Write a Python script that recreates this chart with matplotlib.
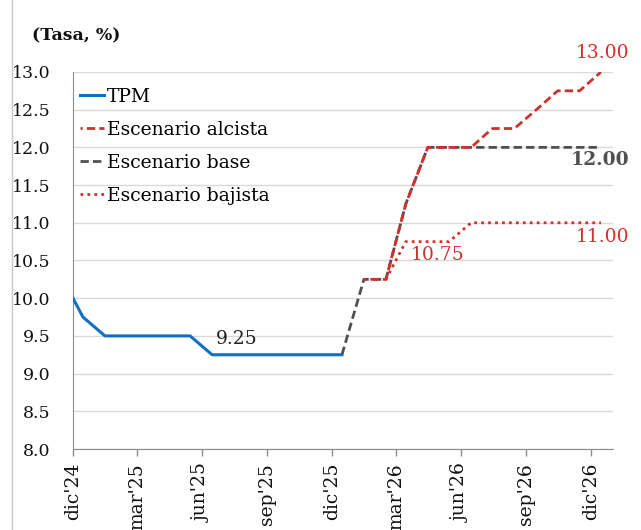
import pandas as pd
import matplotlib.pyplot as plt
from matplotlib.lines import Line2D
from matplotlib.transforms import blended_transform_factory

plt.rcParams['font.family'] = ['DejaVu Serif']

# Datos (tasa, %)
fechas_tpm = ['2024-12-01', '2024-12-15', '2025-01-15', '2025-02-15', '2025-03-15',
              '2025-04-15', '2025-05-15', '2025-06-15', '2025-07-15', '2025-08-15',
              '2025-09-15', '2025-10-15', '2025-11-15', '2025-12-15']
tpm = [10.0, 9.75, 9.5, 9.5, 9.5, 9.5, 9.5, 9.25, 9.25, 9.25, 9.25, 9.25, 9.25, 9.25]

fechas_base = ['2025-12-15', '2026-01-15', '2026-02-15', '2026-03-15', '2026-04-15',
               '2026-05-15', '2026-06-15', '2026-07-15', '2026-08-15', '2026-09-15',
               '2026-10-15', '2026-11-15', '2026-12-15']
base = [9.25, 10.25, 10.25, 11.25, 12.0, 12.0, 12.0, 12.0, 12.0, 12.0, 12.0, 12.0, 12.0]

fechas_alcista = fechas_base[1:]
alcista = [10.25, 10.25, 11.25, 12.0, 12.0, 12.0, 12.25, 12.25, 12.5, 12.75, 12.75, 13.0]

fechas_bajista = fechas_base[2:]
bajista = [10.25, 10.75, 10.75, 10.75, 11.0, 11.0, 11.0, 11.0, 11.0, 11.0, 11.0]

ticks = ['2024-12-01', '2025-03-01', '2025-06-01', '2025-09-01', '2025-12-01',
         '2026-03-01', '2026-06-01', '2026-09-01', '2026-12-01']
tick_labels = ["dic'24", "mar'25", "jun'25", "sep'25", "dic'25",
               "mar'26", "jun'26", "sep'26", "dic'26"]

azul = '#1170c0'
rojo = '#d3302b'
gris = '#505050'

fig = plt.figure(figsize=(6.41, 5.30), dpi=100)
ax = fig.add_axes([0.1139, 0.1528, 0.8424, 0.7114])

ax.plot(pd.to_datetime(fechas_base), base, color=gris, lw=2, ls=(0, (3, 1.5)),
        label='Escenario base', zorder=3)
ax.plot(pd.to_datetime(fechas_alcista), alcista, color=rojo, lw=2, ls=(2.2, (3, 1.5)),
        label='Escenario alcista', zorder=4)
ax.plot(pd.to_datetime(fechas_bajista), bajista, color=rojo, lw=2, ls=(0, (1, 1.5)),
        label='Escenario bajista', zorder=4)
ax.plot(pd.to_datetime(fechas_tpm), tpm, color=azul, lw=2.2, label='TPM', zorder=5)

# Etiquetas de valores
derecha = blended_transform_factory(fig.transFigure, ax.transData)
ax.text(pd.Timestamp('2025-06-20'), 9.46, '9.25', fontsize=13.5, color='#222222',
        ha='left', va='center')
ax.text(pd.Timestamp('2026-03-22'), 10.57, '10.75', fontsize=13.5, color=rojo,
        ha='left', va='center')
ax.text(629 / 641, 13.25, '13.00', fontsize=13.5, color=rojo,
        ha='right', va='center', transform=derecha)
ax.text(629 / 641, 11.83, '12.00', fontsize=13.5, color=gris,
        ha='right', va='center', fontweight='bold', transform=derecha)
ax.text(629 / 641, 10.81, '11.00', fontsize=13.5, color=rojo,
        ha='right', va='center', transform=derecha)

# Leyenda
handles, labels = ax.get_legend_handles_labels()
orden = [3, 1, 0, 2]
ax.legend([handles[i] for i in orden], [labels[i] for i in orden],
          loc='upper left', bbox_to_anchor=(0.0, 0.975), frameon=False,
          fontsize=13.5, handlelength=1.3, handletextpad=0.15, labelspacing=0.8,
          borderaxespad=0.15, borderpad=0.2)

ax.set_ylim(8.0, 13.0)
ax.set_yticks([8.0, 8.5, 9.0, 9.5, 10.0, 10.5, 11.0, 11.5, 12.0, 12.5, 13.0])
ax.set_yticklabels([f'{v:.1f}' for v in ax.get_yticks()])
ax.set_xlim(pd.Timestamp('2024-12-01'), pd.Timestamp('2027-01-01'))
ax.set_xticks(pd.to_datetime(ticks))
ax.set_xticklabels(tick_labels, rotation=90)

ax.grid(axis='y', color='#d9d9d9', lw=1)
ax.set_axisbelow(True)
for lado in ['top', 'right']:
    ax.spines[lado].set_visible(False)
ax.spines['left'].set_color('#8c8c8c')
ax.spines['bottom'].set_color('#8c8c8c')
ax.tick_params(axis='y', length=0, pad=16, labelsize=12.5, colors='#111111')
ax.tick_params(axis='x', length=5, width=1, color='#8c8c8c', pad=5, labelsize=13.5,
               labelcolor='#111111')

fig.text(0.05, 0.932, '(Tasa, %)', fontsize=12.5, fontweight='bold', va='center',
         color='#111111')
fig.add_artist(Line2D([12 / 641, 12 / 641], [0, 1], color='#c8c8c8', lw=1))

fig.savefig('out.png', dpi=100)
